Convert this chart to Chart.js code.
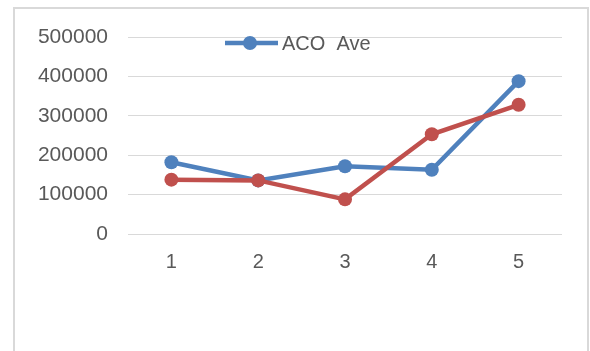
<!DOCTYPE html>
<html>
<head>
<meta charset="utf-8">
<script src="https://cdn.jsdelivr.net/npm/chart.js@4/dist/chart.umd.min.js"></script>
<style>
  html, body { margin: 0; padding: 0; background: #fff; }
  #wrap { position: relative; width: 590px; height: 351px; overflow: hidden; }
  #frame { position: absolute; left: 13px; top: 7px; width: 572px; height: 360px; border: 2px solid #d9d9d9; }
  canvas { position: absolute; left: 0; top: 0; }
</style>
</head>
<body>
<div id="wrap">
  <div id="frame"></div>
  <canvas id="chart" width="590" height="351"></canvas>
</div>
<script>
// datos
const categories = ['1', '2', '3', '4', '5'];
const acoAve = [182000, 136000, 172000, 163000, 388000];
const serie2 = [138000, 136000, 88000, 253000, 328000];
const yTicks = [0, 100000, 200000, 300000, 400000, 500000];

const BLUE = '#4f81bd';
const RED = '#c0504d';
const TXT = '#595959';
const FONT = '"Liberation Sans", Arial, sans-serif';

// leyenda dentro del area del grafico, como en Excel
const legendPlugin = {
  id: 'insideLegend',
  afterDraw(chart) {
    const ctx = chart.ctx;
    const ds = chart.data.datasets[0];
    const y = 43;
    ctx.save();
    ctx.strokeStyle = ds.borderColor;
    ctx.lineWidth = 4.5;
    ctx.beginPath();
    ctx.moveTo(225, y);
    ctx.lineTo(278, y);
    ctx.stroke();
    ctx.fillStyle = ds.borderColor;
    ctx.beginPath();
    ctx.arc(250, y, 7, 0, Math.PI * 2);
    ctx.fill();
    ctx.fillStyle = TXT;
    ctx.font = '20px ' + FONT;
    ctx.textBaseline = 'middle';
    ctx.fillText(ds.label, 282, y + 1);
    ctx.restore();
  }
};

new Chart(document.getElementById('chart'), {
  type: 'line',
  data: {
    labels: categories,
    datasets: [
      {
        label: 'ACO  Ave',
        data: acoAve,
        borderColor: BLUE,
        backgroundColor: BLUE,
        borderWidth: 4.5,
        pointRadius: 7,
        pointBorderWidth: 0,
        pointBackgroundColor: BLUE,
        tension: 0,
        order: 1
      },
      {
        label: 'Serie 2',
        data: serie2,
        borderColor: RED,
        backgroundColor: RED,
        borderWidth: 4.5,
        pointRadius: 7,
        pointBorderWidth: 0,
        pointBackgroundColor: RED,
        tension: 0,
        order: 0
      }
    ]
  },
  options: {
    responsive: false,
    animation: false,
    layout: { padding: { left: 0, right: 28, top: 37, bottom: 61 } },
    plugins: {
      legend: { display: false },
      tooltip: { enabled: false }
    },
    scales: {
      x: {
        offset: true,
        grid: { display: false, drawTicks: false },
        border: { display: false },
        ticks: { color: TXT, font: { family: FONT, size: 20 }, padding: 16 }
      },
      y: {
        min: 0,
        max: 500000,
        afterBuildTicks: (scale) => { scale.ticks = yTicks.map(v => ({ value: v })); },
        afterFit: (scale) => { scale.width = 128; },
        grid: { color: '#d9d9d9', lineWidth: 1, drawTicks: false },
        border: { display: false },
        ticks: {
          color: TXT,
          font: { family: FONT, size: 21 },
          padding: 20,
          callback: (v) => String(v)
        }
      }
    }
  },
  plugins: [legendPlugin]
});
</script>
</body>
</html>
